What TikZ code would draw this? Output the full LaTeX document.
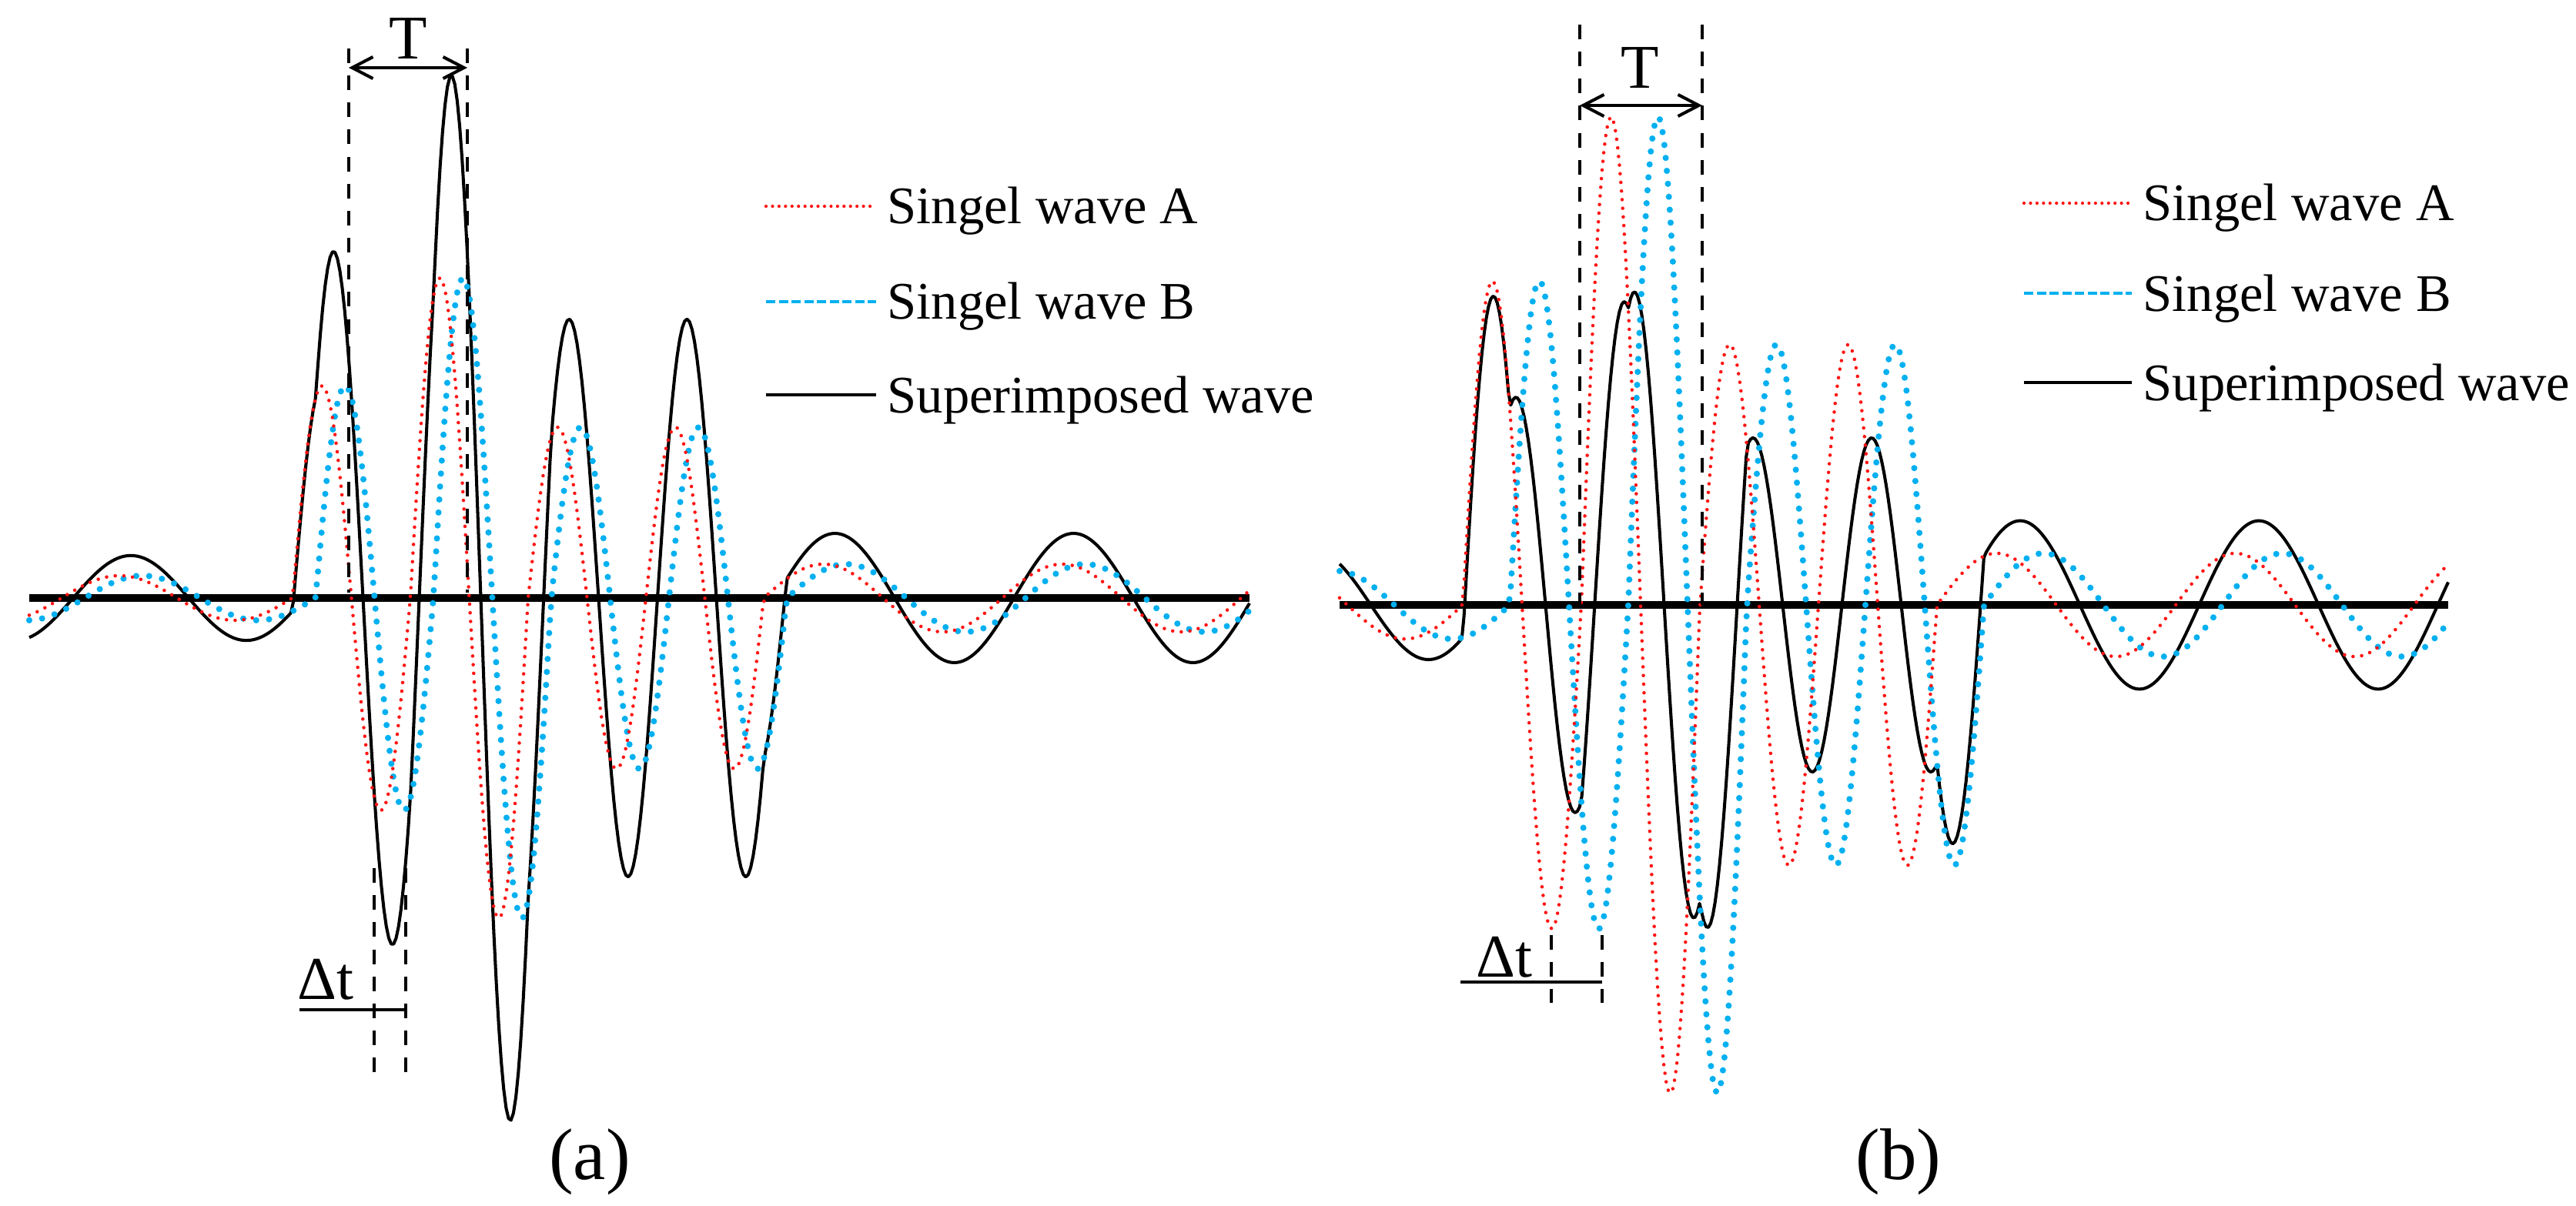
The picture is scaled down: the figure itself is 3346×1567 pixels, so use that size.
\documentclass[tikz,border=0pt]{standalone}
\usepackage{fontspec}
\setmainfont{Liberation Serif}
\usetikzlibrary{arrows.meta}
\definecolor{wavered}{RGB}{255,20,20}
\definecolor{waveblue}{RGB}{0,176,240}

\begin{document}
\begin{tikzpicture}[x=0.01cm, y=-0.01cm,
    declare function={
      wv(\w,\q)=ifthenelse(\w<0, 29*sin(\w/300*360),
                ifthenelse(\w<\q, 276*sin(\w/\q*360),
                ifthenelse(\w<2*\q, 416*sin(\w/\q*360),
                ifthenelse(\w<4*\q, 222*sin(\w/\q*360),
                44*sin((\w-4*\q)/310*360)))));
    },
    wavea/.style={wavered, line width=1.3pt, line cap=round, dash pattern=on 0pt off 3.2pt},
    waveb/.style={waveblue, line width=2.3pt, line cap=round, dash pattern=on 0pt off 4.8pt},
    wavesum/.style={black, line width=1.15pt, line join=round},
    axisline/.style={black, line width=2.7pt},
    guide/.style={black, line width=1.1pt, dash pattern=on 5.4pt off 4.6pt},
    dimline/.style={black, line width=1.15pt},
    lega/.style={wavered, line width=1.2pt, line cap=round, dash pattern=on 0pt off 2.4pt},
    legb/.style={waveblue, line width=1.3pt, dash pattern=on 3.4pt off 1.3pt},
    legs/.style={black, line width=1.4pt},
    lbl/.style={inner sep=0pt, anchor=base west, font=\fontsize{19.5}{23}\selectfont},
    tlbl/.style={inner sep=0pt, anchor=base, font=\fontsize{23}{27}\selectfont},
    dtlbl/.style={inner sep=0pt, anchor=base west, font=\fontsize{22.5}{26}\selectfont},
    caplbl/.style={inner sep=0pt, anchor=base, font=\fontsize{27}{32}\selectfont}]

    \useasboundingbox (0,0) rectangle (3346,1567);

    \def\axA{777}
    \def\axB{786}
    \def\dA{30}
    \def\dB{61}

    % (a) small delay
    \draw[axisline] (38,\axA) -- (1623,\axA);
    \begin{scope}[domain=38:1623, samples=500]
        \draw[wavesum] plot (\x, {\axA-wv(\x-380,153)-wv(\x-380-\dA,153)});
        \draw[waveb] plot (\x, {\axA-wv(\x-380-\dA,153)});
        \draw[wavea] plot (\x, {\axA-wv(\x-380,153)});
    \end{scope}

    \coordinate (ta1) at (453,63);   \coordinate (ta1b) at (453,770);
    \coordinate (ta2) at (607,63);   \coordinate (ta2b) at (607,770);
    \coordinate (tal) at (453,88);   \coordinate (tar) at (607,88);
    \draw[guide] (ta1) -- (ta1b);
    \draw[guide] (ta2) -- (ta2b);
    \draw[dimline, {Straight Barb[length=7.7pt,width=8pt]}-{Straight Barb[length=7.7pt,width=8pt]}] (tal) -- (tar);
    \node[tlbl] (Ta) at (530,77) {T};

    \coordinate (da1) at (486,1128); \coordinate (da1b) at (486,1400);
    \coordinate (da2) at (527,1128); \coordinate (da2b) at (527,1400);
    \coordinate (dal) at (389,1312); \coordinate (dar) at (527,1312);
    \draw[guide] (da1) -- (da1b);
    \draw[guide] (da2) -- (da2b);
    \draw[dimline, line width=0.95pt] (dal) -- (dar);
    \node[dtlbl] (DTa) at (386,1298) {Δt};

    \coordinate (la1) at (995,268);  \coordinate (la2) at (1138,268);
    \coordinate (lb1) at (995,392);  \coordinate (lb2) at (1138,392);
    \coordinate (ls1) at (995,513);  \coordinate (ls2) at (1138,513);
    \draw[lega] (la1) -- (la2);
    \draw[legb] (lb1) -- (lb2);
    \draw[legs] (ls1) -- (ls2);
    \node[lbl] (LAa) at (1152,291) {Singel wave A};
    \node[lbl] (LBa) at (1152,415) {Singel wave B};
    \node[lbl] (LSa) at (1152,536) {Superimposed wave};

    \node[caplbl] (capa) at (766,1532) {(a)};

    % (b) larger delay
    \draw[axisline] (1740,\axB) -- (3180,\axB);
    \begin{scope}[domain=1740:3180, samples=500]
        \draw[wavesum] plot (\x, {\axB-1.525*wv(\x-1900,154)-1.525*wv(\x-1900-\dB,154)});
        \draw[waveb] plot (\x, {\axB-1.525*wv(\x-1900-\dB,154)});
        \draw[wavea] plot (\x, {\axB-1.525*wv(\x-1900,154)});
    \end{scope}

    \coordinate (tb1) at (2052,32);  \coordinate (tb1b) at (2052,786);
    \coordinate (tb2) at (2211,32);  \coordinate (tb2b) at (2211,786);
    \coordinate (tbl) at (2052,137); \coordinate (tbr) at (2211,137);
    \draw[guide] (tb1) -- (tb1b);
    \draw[guide] (tb2) -- (tb2b);
    \draw[dimline, {Straight Barb[length=7.7pt,width=8pt]}-{Straight Barb[length=7.7pt,width=8pt]}] (tbl) -- (tbr);
    \node[tlbl] (Tb) at (2130,115) {T};

    \coordinate (db1) at (2015,1215); \coordinate (db1b) at (2015,1303);
    \coordinate (db2) at (2081,1215); \coordinate (db2b) at (2081,1303);
    \coordinate (dbl) at (1897,1276); \coordinate (dbr) at (2081,1276);
    \draw[guide] (db1) -- (db1b);
    \draw[guide] (db2) -- (db2b);
    \draw[dimline, line width=0.95pt] (dbl) -- (dbr);
    \node[dtlbl] (DTb) at (1917,1269) {Δt};

    \coordinate (lc1) at (2629,264);  \coordinate (lc2) at (2769,264);
    \coordinate (ld1) at (2629,381);  \coordinate (ld2) at (2769,381);
    \coordinate (lt1) at (2629,497);  \coordinate (lt2) at (2769,497);
    \draw[lega] (lc1) -- (lc2);
    \draw[legb] (ld1) -- (ld2);
    \draw[legs] (lt1) -- (lt2);
    \node[lbl] (LAb) at (2783,287) {Singel wave A};
    \node[lbl] (LBb) at (2783,404) {Singel wave B};
    \node[lbl] (LSb) at (2783,520) {Superimposed wave};

    \node[caplbl] (capb) at (2466,1532) {(b)};
\end{tikzpicture}
\end{document}
